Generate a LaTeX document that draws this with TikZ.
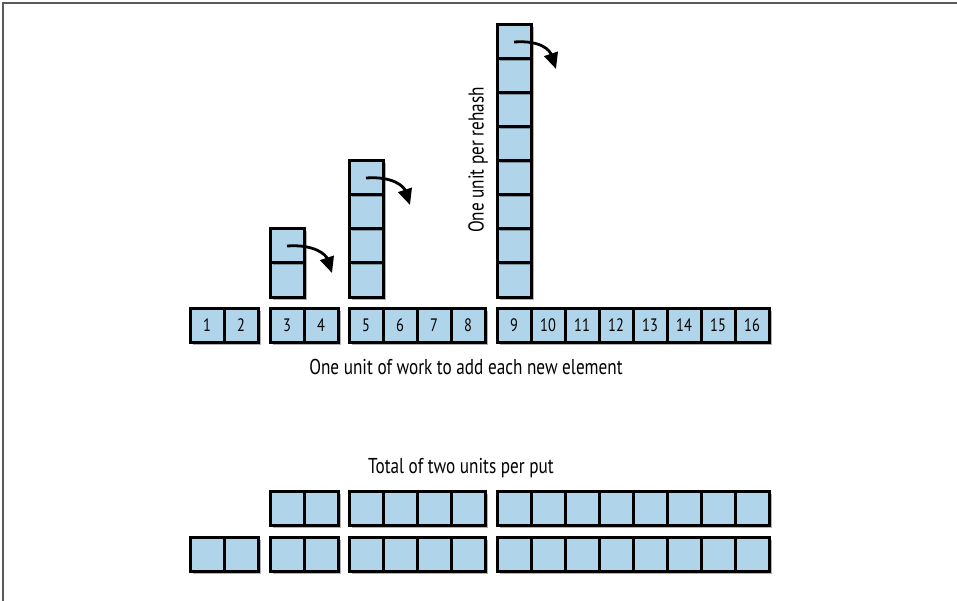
\documentclass[tikz,border=0pt]{standalone}
\usepackage{fontspec}
\setmainfont[FakeStretch=0.8]{PT Sans}
\usetikzlibrary{shadows,arrows.meta}
\definecolor{cellblue}{RGB}{176,212,234}
\definecolor{framegray}{RGB}{90,90,90}
\tikzset{
  cell/.style={draw=black, line width=3pt, fill=cellblue, minimum size=34pt,
    inner sep=0pt, outer sep=0pt, font=\fontsize{18}{18}\selectfont,
    drop shadow={shadow xshift=2.5pt, shadow yshift=-2.5pt, opacity=0.3, fill=black}},
  rehash/.style={line width=2.8pt, -{Triangle[width=14pt,length=16pt]}},
  caption/.style={font=\fontsize{21.5}{21.5}\selectfont, inner sep=0pt}
}
\begin{document}
\begin{tikzpicture}[x=1pt,y=-1pt]
\useasboundingbox (0,0) rectangle (957,601);
\fill[white] (0,0) rectangle (957,601);
\draw[framegray, line width=1.6pt] (3,601) -- (3,3) -- (957,3);

% stacks (drawn first, bottom up)
\foreach \i in {1,2} { \node[cell] (sa\i) at (287,{314-34*\i}) {}; }
\foreach \i in {1,...,4} { \node[cell] (sb\i) at (366,{314-34*\i}) {}; }
\foreach \i in {1,...,8} { \node[cell] (sc\i) at (514,{314-34*\i}) {}; }

% first row with numbers
\node[cell] (n1) at (207,325) {1};
\node[cell] (n2) at (241,325) {2};
\node[cell] (n3) at (287,325) {3};
\node[cell] (n4) at (321,325) {4};
\foreach \k in {5,...,8} { \node[cell] (n\k) at ({366+34*(\k-5)},325) {\k}; }
\foreach \k in {9,...,16} { \node[cell] (n\k) at ({514+34*(\k-9)},325) {\k}; }

% arrows
\coordinate (ta) at (332,273);
\coordinate (tb) at (410,205);
\coordinate (tc) at (556,69);
\draw[rehash] (sa2.center) .. controls +(28,-2) and +(-6,-18) .. (ta);
\draw[rehash] (sb4.center) .. controls +(28,-2) and +(-6,-18) .. (tb);
\draw[rehash] (sc8.center) .. controls +(28,-2) and +(-6,-18) .. (tc);

% labels
\node[caption] (lwork) at (466,367) {One unit of work to add each new element};
\node[caption, rotate=90] (lrehash) at (478,160) {One unit per rehash};
\node[caption] (ltotal) at (461,468) {Total of two units per put};

% bottom rows
\foreach \x [count=\j] in {287,321,366,400,434,468,514,548,582,616,650,684,718,752} {
  \node[cell] (u\j) at (\x,508) {};
}
\foreach \x [count=\j] in {207,241,287,321,366,400,434,468,514,548,582,616,650,684,718,752} {
  \node[cell] (w\j) at (\x,554) {};
}
\end{tikzpicture}
\end{document}
